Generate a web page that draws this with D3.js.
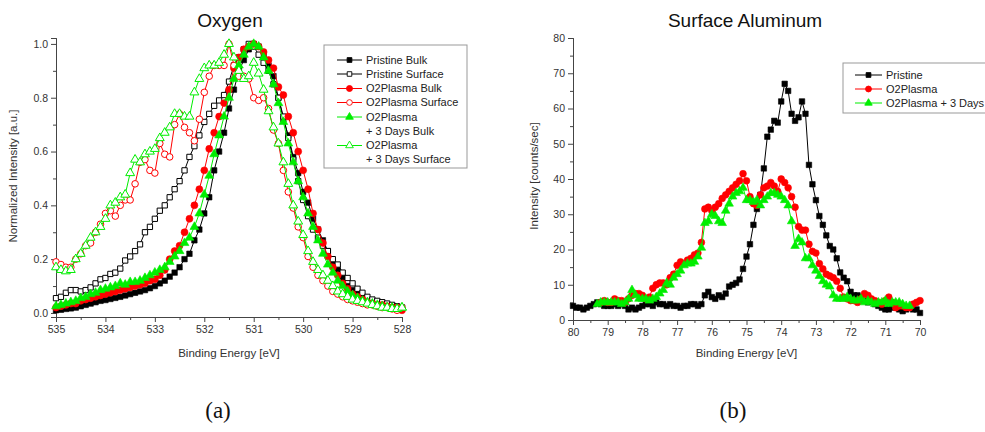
<!DOCTYPE html>
<html>
<head>
<meta charset="utf-8">
<script src="https://cdn.jsdelivr.net/npm/d3@7/dist/d3.min.js"></script>
<style>
  body { margin: 0; background: #fff; }
  svg { display: block; font-family: "Liberation Sans", Arial, sans-serif; }
</style>
</head>
<body>
<svg id="fig" width="985" height="432"></svg>
<script>
// ---------- Oxygen 1s spectra, sampled every 0.1 eV from 535.0 down to 528.0 ----------
const oxygenEnergy = d3.range(0, 71).map(i => +(535 - i * 0.1).toFixed(1));
const oxygenTicks = [535, 534, 533, 532, 531, 530, 529, 528];
const oxygenYTicks = [0, 0.2, 0.4, 0.6, 0.8, 1.0];

const pristineBulk = [
  0.01, 0.012, 0.015, 0.017, 0.02, 0.025, 0.03, 0.035, 0.04, 0.045,
  0.048, 0.052, 0.056, 0.06, 0.065, 0.07, 0.075, 0.08, 0.085, 0.092,
  0.10, 0.11, 0.12, 0.135, 0.15, 0.17, 0.20, 0.22, 0.27, 0.31,
  0.37, 0.43, 0.53, 0.60, 0.67, 0.76, 0.83, 0.90, 0.94, 0.98,
  1.0, 0.99, 0.96, 0.92, 0.88, 0.80, 0.72, 0.66, 0.58, 0.52,
  0.45, 0.41, 0.35, 0.31, 0.27, 0.23, 0.19, 0.16, 0.13, 0.10,
  0.085, 0.07, 0.06, 0.05, 0.04, 0.035, 0.03, 0.025, 0.02, 0.02,
  0.02
];
const pristineSurface = [
  0.055, 0.06, 0.075, 0.085, 0.085, 0.08, 0.085, 0.095, 0.11, 0.125,
  0.13, 0.145, 0.15, 0.165, 0.195, 0.21, 0.23, 0.255, 0.30, 0.32,
  0.35, 0.38, 0.40, 0.43, 0.46, 0.49, 0.53, 0.58, 0.62, 0.66,
  0.71, 0.74, 0.77, 0.79, 0.81, 0.86, 0.92, 0.95, 0.98, 1.0,
  0.99, 0.96, 0.93, 0.90, 0.85, 0.80, 0.73, 0.65, 0.57, 0.49,
  0.42, 0.36, 0.31, 0.28, 0.25, 0.23, 0.20, 0.18, 0.15, 0.13,
  0.11, 0.09, 0.075, 0.06, 0.05, 0.045, 0.04, 0.035, 0.03, 0.025,
  0.02
];
const plasmaBulk = [
  0.02, 0.025, 0.03, 0.035, 0.035, 0.045, 0.05, 0.055, 0.06, 0.065,
  0.07, 0.075, 0.08, 0.085, 0.09, 0.095, 0.10, 0.105, 0.11, 0.12,
  0.125, 0.14, 0.16, 0.20, 0.23, 0.25, 0.30, 0.35, 0.40, 0.46,
  0.53, 0.61, 0.67, 0.73, 0.78, 0.83, 0.91, 0.95, 0.98, 0.99,
  1.0, 0.99, 0.97, 0.94, 0.91, 0.84, 0.81, 0.73, 0.67, 0.60,
  0.53, 0.46, 0.37, 0.31, 0.26, 0.21, 0.17, 0.14, 0.11, 0.09,
  0.07, 0.06, 0.05, 0.04, 0.035, 0.03, 0.03, 0.025, 0.02, 0.02,
  0.01
];
const plasmaSurface = [
  0.19, 0.18, 0.17, 0.17, 0.20, 0.22, 0.25, 0.26, 0.30, 0.33,
  0.37, 0.38, 0.36, 0.40, 0.42, 0.42, 0.48, 0.56, 0.57, 0.53,
  0.52, 0.63, 0.59, 0.58, 0.70, 0.74, 0.69, 0.67, 0.64, 0.72,
  0.82, 0.88, 0.92, 0.92, 0.92, 1.0, 0.92, 0.88, 0.88, 0.87,
  0.80, 0.79, 0.80, 0.76, 0.68, 0.63, 0.53, 0.45, 0.39, 0.32,
  0.28, 0.21, 0.17, 0.14, 0.12, 0.10, 0.08, 0.07, 0.06, 0.05,
  0.045, 0.04, 0.035, 0.03, 0.03, 0.025, 0.02, 0.02, 0.015, 0.01,
  0.02
];
const aged3dBulk = [
  0.025, 0.03, 0.035, 0.04, 0.045, 0.055, 0.06, 0.07, 0.075, 0.085,
  0.09, 0.095, 0.10, 0.11, 0.105, 0.115, 0.115, 0.12, 0.13, 0.14,
  0.15, 0.16, 0.17, 0.19, 0.21, 0.23, 0.26, 0.28, 0.32, 0.37,
  0.44, 0.51, 0.59, 0.66, 0.73, 0.80, 0.87, 0.92, 0.96, 0.99,
  1.0, 0.99, 0.95, 0.90, 0.85, 0.78, 0.71, 0.63, 0.56, 0.49,
  0.43, 0.37, 0.32, 0.27, 0.22, 0.18, 0.15, 0.12, 0.10, 0.08,
  0.065, 0.055, 0.045, 0.04, 0.035, 0.03, 0.025, 0.02, 0.02, 0.015,
  0.02
];
const aged3dSurface = [
  0.17, 0.16, 0.155, 0.16, 0.20, 0.22, 0.25, 0.28, 0.30, 0.32,
  0.35, 0.40, 0.41, 0.43, 0.44, 0.52, 0.57, 0.56, 0.59, 0.60,
  0.61, 0.65, 0.67, 0.69, 0.74, 0.74, 0.73, 0.73, 0.82, 0.87,
  0.91, 0.92, 0.92, 0.93, 0.96, 1.0, 0.95, 0.90, 0.87, 0.88,
  0.93, 0.89, 0.83, 0.75, 0.69, 0.63, 0.56, 0.48, 0.40, 0.34,
  0.29, 0.23, 0.19, 0.16, 0.14, 0.12, 0.10, 0.08, 0.07, 0.06,
  0.05, 0.045, 0.04, 0.035, 0.03, 0.025, 0.02, 0.02, 0.015, 0.015,
  0.02
];

// ---------- Al 2p spectra, sampled every 0.1 eV from 80.0 down to 70.0 ----------
const aluminumEnergy = d3.range(0, 101).map(i => +(80 - i * 0.1).toFixed(1));
const aluminumTicks = [80, 79, 78, 77, 76, 75, 74, 73, 72, 71, 70];
const aluminumYTicks = [0, 10, 20, 30, 40, 50, 60, 70, 80];

const alPristine = [
  4, 3.5, 3.5, 3, 3.5, 4, 4.5, 5, 4.5, 4,
  4, 4, 4.5, 4, 4.5, 4, 3, 3.5, 3, 3.5,
  4, 4.5, 4.5, 4, 5, 4.5, 4.5, 4, 4.5, 4,
  4, 3.5, 4, 4, 4.5, 4.5, 4, 4.5, 7, 8,
  6.5, 6, 7, 6.5, 7.5, 9.5, 10, 10.5, 11.5, 14.5,
  18, 21.5, 27, 31.5, 35.5, 43, 52, 54, 56.5, 56,
  62, 67, 65, 58.5, 56.5, 57.5, 62, 58.5, 44, 38.5,
  34, 29.5, 27, 24, 21, 20, 17.5, 13.5, 12, 11,
  8, 7, 7, 6.5, 5.5, 5, 5.5, 4.5, 4, 3.5,
  3, 3, 3.5, 4, 3, 2.5, 3, 3.5, 3, 3,
  2
];
const alPlasma = [
  null, null, null, null, null, null, null, null,
  5, 5.5, 5, 5, 6, 5.5, 5.5, 5, 6, 7,
  7.5, 7.5, 7, 6, 6.5, 9, 10, 10.5, 10.5, 10,
  12, 13, 15.5, 16.5, 16, 17, 17.5, 18.5, 19, 22,
  31.5, 32, 31, 32, 33, 34.5, 35.5, 36.5, 37.5, 38.5,
  39.5, 41.5, 39.5, 35, 33, 32.5, 35.5, 37.5, 38, 39,
  38, 36.5, 40, 39, 37.5, 35, 32, 26.5, 25.5, 25.5,
  21.5, 19.5, 19, 16, 14.5, 13, 12.5, 12, 11, 9,
  6.5, 6, 5.5, 5.5, 5, 6, 7.5, 7, 6, 5.5,
  5, 4.5, 5.5, 6.5, 5, 3.5, 4, 4, 3.5, 3.5,
  4.5, 5, 5.5
];
const alPlasma3d = [
  null, null, null, null, null, null, null,
  4.5, 5, 5, 5, 5, 5, 5, 4.5, 5, 6,
  8.5, 7, 6, 6, 6, 5.5, 6, 6.5, 7.5, 8.5,
  10.5, 10, 12, 13, 14, 15.5, 16, 16, 16.5, 18,
  20.5, 27.5, 28, 30, 29.5, 28, 27.5, 31, 33, 35,
  36, 36.5, 37.5, 34, 34, 33.5, 34, 32.5, 34, 35,
  36, 36, 35.5, 35, 34, 32.5, 28, 21, 23, 22,
  17.5, 17.5, 15.5, 14, 12.5, 11, 10, 9.5, 7, 6,
  6, 6, 6.5, 6, 5.5, 5.5, 6, 5, 5.5, 5,
  4.5, 5, 5, 5.5, 4.5, 5, 5, 5, 4.5, 4,
  4,
  null, null, null
];

// ---------- drawing ----------
const svg = d3.select("#fig");
const AXIS = "#444";
const TXT = "#333";
const GREEN = "#00ee00";

function panel(cfg) {
  const g = svg.append("g");
  const x = d3.scaleLinear().domain(cfg.xDomain).range(cfg.xRange);
  const y = d3.scaleLinear().domain(cfg.yDomain).range(cfg.yRange);

  const styleAxis = sel => {
    sel.attr("font-family", null);
    sel.select(".domain").attr("stroke", AXIS).attr("stroke-width", 1);
    sel.selectAll(".tick line").attr("stroke", AXIS);
    sel.selectAll(".tick text").attr("fill", TXT).attr("font-size", 10.5);
  };

  // minor ticks
  g.append("g").attr("transform", `translate(0,${cfg.yRange[0]})`)
    .call(d3.axisBottom(x).tickValues(cfg.xMinor).tickSize(3).tickFormat(""))
    .call(styleAxis);
  g.append("g").attr("transform", `translate(${cfg.xRange[0]},0)`)
    .call(d3.axisLeft(y).tickValues(cfg.yMinor).tickSize(3).tickFormat(""))
    .call(styleAxis);
  // major ticks
  g.append("g").attr("transform", `translate(0,${cfg.yRange[0]})`)
    .call(d3.axisBottom(x).tickValues(cfg.xTicks).tickSize(5).tickPadding(4).tickFormat(d3.format("d")))
    .call(styleAxis);
  g.append("g").attr("transform", `translate(${cfg.xRange[0]},0)`)
    .call(d3.axisLeft(y).tickValues(cfg.yTicks).tickSize(5).tickPadding(3).tickFormat(cfg.yFormat))
    .call(styleAxis);

  // titles
  g.append("text").attr("x", cfg.titleX).attr("y", 27).attr("text-anchor", "middle")
    .attr("font-size", 19).attr("fill", "#111").text(cfg.title);
  g.append("text").attr("x", (cfg.xRange[0] + cfg.xRange[1]) / 2).attr("y", 357)
    .attr("text-anchor", "middle").attr("font-size", 11.5).attr("fill", TXT).text("Binding Energy [eV]");
  g.append("text").attr("transform", `translate(${cfg.yTitleX},${cfg.yTitleY}) rotate(-90)`)
    .attr("text-anchor", "middle").attr("font-size", 11.5).attr("fill", TXT).text(cfg.yTitle);

  // series
  cfg.series.forEach(s => {
    const pts = cfg.energy.map((e, i) => ({ e, v: s.values[i] })).filter(d => d.v != null);
    g.append("path").datum(pts)
      .attr("fill", "none").attr("stroke", s.color).attr("stroke-width", 1)
      .attr("d", d3.line().x(d => x(d.e)).y(d => y(d.v)));
    const sym = d3.symbol().type(s.shape).size(s.size);
    g.append("g").selectAll("path").data(pts).join("path")
      .attr("transform", d => `translate(${x(d.e)},${y(d.v)})`)
      .attr("d", sym)
      .attr("fill", s.open ? "#fff" : s.color)
      .attr("stroke", s.color).attr("stroke-width", s.open ? 1 : 0.6);
  });

  // legend
  const L = cfg.legend;
  g.append("rect").attr("x", L.x).attr("y", L.y).attr("width", L.w).attr("height", L.h)
    .attr("fill", "#fff").attr("stroke", "#999").attr("stroke-width", 1);
  L.rows.forEach(r => {
    const s = cfg.series[r.series];
    if (r.marker) {
      g.append("line").attr("x1", L.lx1).attr("x2", L.lx2).attr("y1", r.y).attr("y2", r.y)
        .attr("stroke", s.color).attr("stroke-width", 1);
      g.append("path").attr("transform", `translate(${(L.lx1 + L.lx2) / 2},${r.y})`)
        .attr("d", d3.symbol().type(s.shape).size(s.size * 0.75))
        .attr("fill", s.open ? "#fff" : s.color).attr("stroke", s.color).attr("stroke-width", 0.9);
    }
    g.append("text").attr("x", L.tx).attr("y", r.y).attr("dy", "0.35em")
      .attr("font-size", 11).attr("fill", "#222").text(r.text);
  });
}

const oxygenSeries = [
  { values: pristineBulk, color: "#000", shape: d3.symbolSquare, open: false, size: 30 },
  { values: pristineSurface, color: "#000", shape: d3.symbolSquare, open: true, size: 28 },
  { values: plasmaBulk, color: "#ff0000", shape: d3.symbolCircle, open: false, size: 38 },
  { values: plasmaSurface, color: "#ff0000", shape: d3.symbolCircle, open: true, size: 34 },
  { values: aged3dBulk, color: GREEN, shape: d3.symbolTriangle, open: false, size: 34 },
  { values: aged3dSurface, color: GREEN, shape: d3.symbolTriangle, open: true, size: 34 }
];

panel({
  title: "Oxygen", titleX: 230,
  energy: oxygenEnergy,
  xDomain: [535, 528], xRange: [56, 402],
  yDomain: [-0.015, 1.022], yRange: [317, 38],
  xTicks: oxygenTicks, xMinor: [534.5, 533.5, 532.5, 531.5, 530.5, 529.5, 528.5],
  yTicks: oxygenYTicks, yMinor: [0.1, 0.3, 0.5, 0.7, 0.9], yFormat: d3.format(".1f"),
  yTitle: "Normalized Intensity [a.u.]", yTitleX: 17, yTitleY: 176,
  series: oxygenSeries,
  legend: {
    x: 324, y: 45, w: 143, h: 123, lx1: 337, lx2: 362, tx: 366,
    rows: [
      { series: 0, y: 60, text: "Pristine Bulk", marker: true },
      { series: 1, y: 74, text: "Pristine Surface", marker: true },
      { series: 2, y: 88.5, text: "O2Plasma Bulk", marker: true },
      { series: 3, y: 102.5, text: "O2Plasma Surface", marker: true },
      { series: 4, y: 117, text: "O2Plasma", marker: true },
      { series: 4, y: 131, text: "+ 3 Days Bulk", marker: false },
      { series: 5, y: 145.5, text: "O2Plasma", marker: true },
      { series: 5, y: 159.5, text: "+ 3 Days Surface", marker: false }
    ]
  }
});

const aluminumSeries = [
  { values: alPristine, color: "#000", shape: d3.symbolSquare, open: false, size: 30 },
  { values: alPlasma, color: "#ff0000", shape: d3.symbolCircle, open: false, size: 36 },
  { values: alPlasma3d, color: GREEN, shape: d3.symbolTriangle, open: false, size: 32 }
];

panel({
  title: "Surface Aluminum", titleX: 745,
  energy: aluminumEnergy,
  xDomain: [80, 70], xRange: [573, 920],
  yDomain: [0, 80], yRange: [320, 38],
  xTicks: aluminumTicks, xMinor: d3.range(79.5, 70, -1),
  yTicks: aluminumYTicks, yMinor: [5, 15, 25, 35, 45, 55, 65, 75], yFormat: d3.format("d"),
  yTitle: "Intensity [counts/sec]", yTitleX: 538, yTitleY: 176,
  series: aluminumSeries,
  legend: {
    x: 843, y: 63, w: 150, h: 50, lx1: 855, lx2: 882, tx: 886,
    rows: [
      { series: 0, y: 75, text: "Pristine", marker: true },
      { series: 1, y: 89, text: "O2Plasma", marker: true },
      { series: 2, y: 103, text: "O2Plasma + 3 Days", marker: true }
    ]
  }
});

// sub-figure captions
[["(a)", 218], ["(b)", 733]].forEach(([label, cx]) => {
  svg.append("text").attr("x", cx).attr("y", 418).attr("text-anchor", "middle")
    .style("font-family", "'Liberation Serif', 'DejaVu Serif', serif")
    .attr("font-size", 23).attr("fill", "#111").text(label);
});
</script>
</body>
</html>
